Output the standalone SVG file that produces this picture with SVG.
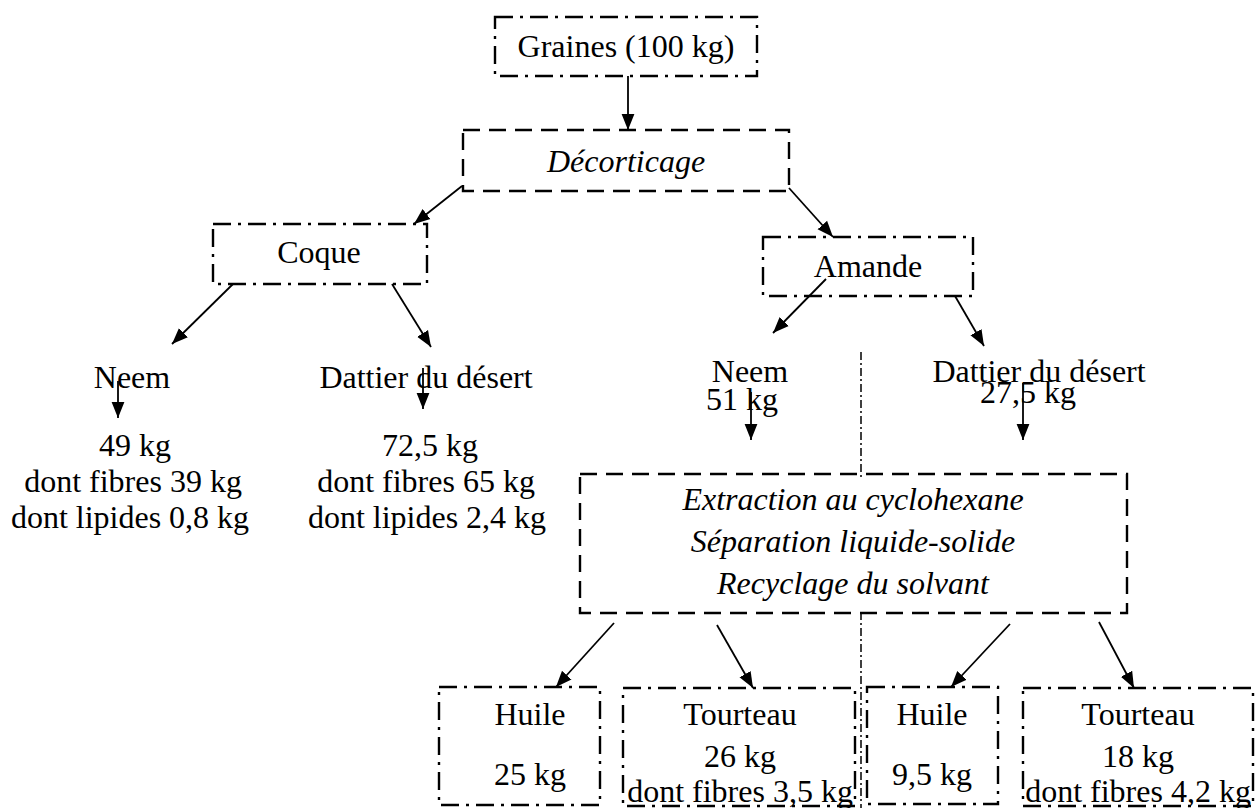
<svg xmlns="http://www.w3.org/2000/svg" width="1258" height="808" viewBox="0 0 1258 808">
<defs>
<style>
text{font-family:"Liberation Serif","Times New Roman",serif;font-size:32px;fill:#000;text-anchor:middle}
.it{font-style:italic}
.dd{fill:none;stroke:#000;stroke-width:2.4;stroke-dasharray:18 7 3 7}
.da{fill:none;stroke:#000;stroke-width:2.4;stroke-dasharray:17 9}
.vl{fill:none;stroke:#000;stroke-width:1.5;stroke-dasharray:8 3 2 3}
.ar{fill:none;stroke:#000;stroke-width:1.8;marker-end:url(#ah)}
</style>
<marker id="ah" viewBox="0 0 10 10" refX="10" refY="5" markerWidth="16" markerHeight="16" markerUnits="userSpaceOnUse" orient="auto">
<path d="M0,1 L10,5 L0,9 z" fill="#000"/>
</marker>
</defs>
<rect width="1258" height="808" fill="#fff"/>

<g id="graines"><rect class="dd" x="495" y="17" width="262" height="59"/><text x="626" y="57">Graines (100 kg)</text></g>
<g id="decorticage"><rect class="da" x="463" y="130" width="326" height="61"/><text class="it" x="626" y="172">Décorticage</text></g>
<g id="coque"><rect class="dd" x="213" y="224" width="214" height="60"/><text x="319" y="263">Coque</text></g>
<g id="amande"><rect class="dd" x="763" y="237" width="210" height="59"/><text x="868" y="277">Amande</text></g>

<g id="coque-neem"><text x="132" y="388">Neem</text><text x="135" y="456">49 kg</text><text x="133" y="492">dont fibres 39 kg</text><text x="130" y="528">dont lipides 0,8 kg</text></g>
<g id="coque-dattier"><text x="426" y="388">Dattier du désert</text><text x="430" y="456">72,5 kg</text><text x="426" y="492">dont fibres 65 kg</text><text x="427" y="528">dont lipides 2,4 kg</text></g>

<g id="amande-neem"><text x="750" y="382">Neem</text><text x="742" y="410">51 kg</text></g>
<g id="amande-dattier"><text x="1039" y="382">Dattier du désert</text><text x="1028" y="403">27,5 kg</text></g>

<g id="extraction"><rect class="da" x="580" y="474" width="547" height="139"/>
<text class="it" x="853" y="510">Extraction au cyclohexane</text>
<text class="it" x="853" y="552">Séparation liquide-solide</text>
<text class="it" x="853" y="594">Recyclage du solvant</text></g>

<g id="huile1"><rect class="dd" x="439" y="687" width="161" height="118"/><text x="530" y="725">Huile</text><text x="530" y="785">25 kg</text></g>
<g id="tourteau1"><rect class="dd" x="623" y="688" width="232" height="118"/><text x="740" y="725">Tourteau</text><text x="740" y="767">26 kg</text><text x="740" y="802">dont fibres 3,5 kg</text></g>
<g id="huile2"><rect class="dd" x="867" y="687" width="131" height="117"/><text x="932" y="725">Huile</text><text x="932" y="785">9,5 kg</text></g>
<g id="tourteau2"><rect class="dd" x="1023" y="688" width="230" height="118"/><text x="1138" y="725">Tourteau</text><text x="1138" y="767">18 kg</text><text x="1138" y="802">dont fibres 4,2 kg</text></g>

<g id="connectors">
<line class="ar" x1="628" y1="76" x2="628" y2="130"/>
<line class="ar" x1="462" y1="186" x2="414" y2="224"/>
<line class="ar" x1="789" y1="188" x2="833" y2="237"/>
<line class="ar" x1="233" y1="284" x2="172" y2="344"/>
<line class="ar" x1="392" y1="284" x2="431" y2="347"/>
<line class="ar" x1="118" y1="381" x2="118" y2="418"/>
<line class="ar" x1="423" y1="368" x2="423" y2="409"/>
<line class="ar" x1="826" y1="279" x2="773" y2="333"/>
<line class="ar" x1="955" y1="296" x2="984" y2="346"/>
<line class="ar" x1="751" y1="392" x2="751" y2="440"/>
<line class="ar" x1="1023" y1="383" x2="1023" y2="440"/>
<line class="vl" x1="861" y1="352" x2="861" y2="480"/>
<line class="vl" x1="861" y1="612" x2="861" y2="808"/>
<line class="ar" x1="614" y1="623" x2="556" y2="687"/>
<line class="ar" x1="717" y1="625" x2="753" y2="688"/>
<line class="ar" x1="1010" y1="624" x2="951" y2="687"/>
<line class="ar" x1="1099" y1="622" x2="1134" y2="688"/>
</g>
</svg>
